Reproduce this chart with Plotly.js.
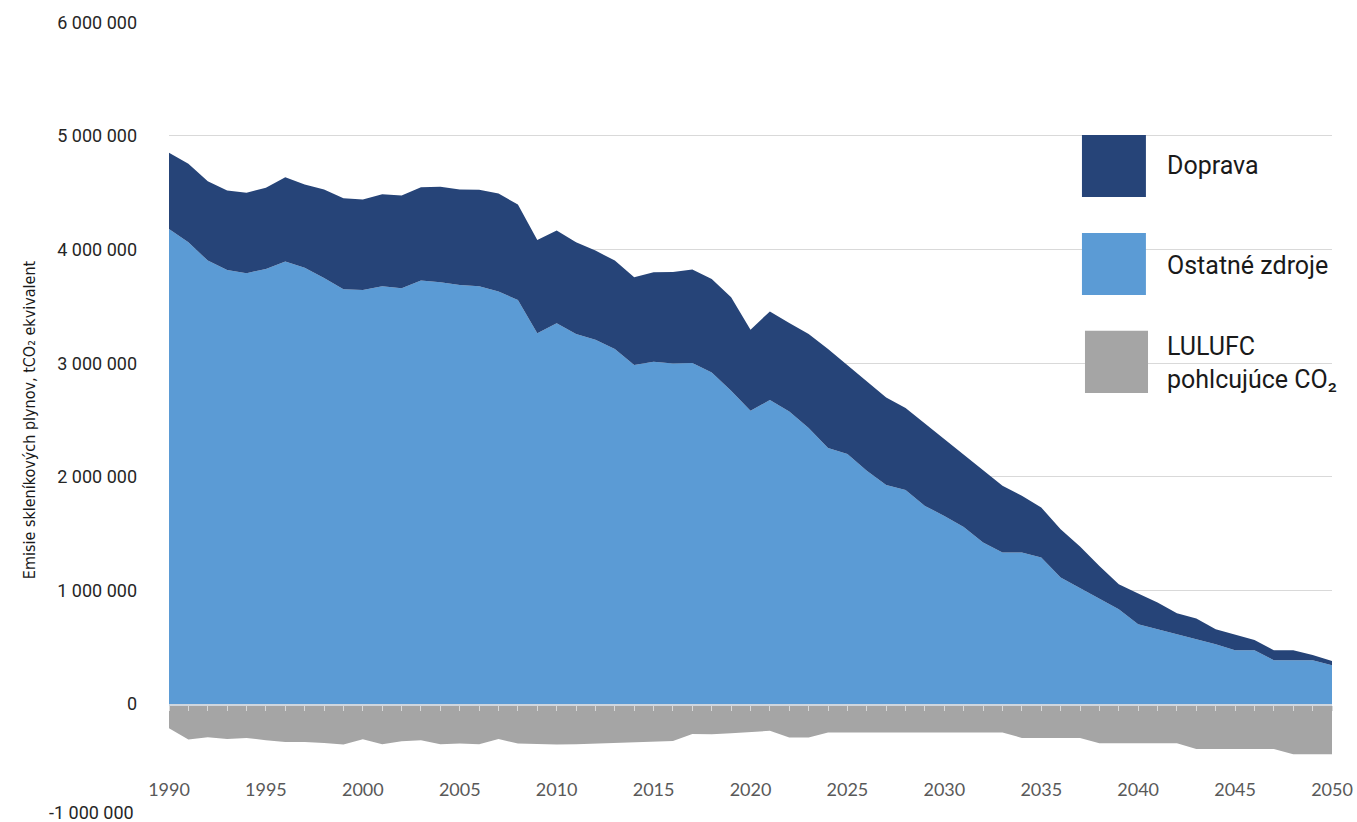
<!DOCTYPE html>
<html>
<head>
<meta charset="utf-8">
<script src="https://cdn.plot.ly/plotly-3.0.1.min.js"></script>
<style>html,body{margin:0;padding:0;background:#fff;}#chart{width:1357px;height:822px;}</style>
</head>
<body>
<div id="chart"></div>
<script>
const years = [1990,1991,1992,1993,1994,1995,1996,1997,1998,1999,2000,2001,2002,2003,2004,2005,2006,2007,2008,2009,2010,2011,2012,2013,2014,2015,2016,2017,2018,2019,2020,2021,2022,2023,2024,2025,2026,2027,2028,2029,2030,2031,2032,2033,2034,2035,2036,2037,2038,2039,2040,2041,2042,2043,2044,2045,2046,2047,2048,2049,2050];

const ostatneZdroje = [4182000,4064000,3903000,3821000,3792000,3830000,3894000,3839000,3750000,3650000,3645000,3677000,3659000,3727000,3712000,3689000,3677000,3630000,3557000,3264000,3351000,3257000,3207000,3125000,2984000,3013000,2998000,3002000,2919000,2758000,2581000,2676000,2575000,2430000,2254000,2200000,2053000,1927000,1883000,1744000,1656000,1559000,1421000,1333000,1333000,1289000,1113000,1019000,928000,834000,702000,658000,620000,576000,526000,473000,473000,385000,385000,385000,341000];

const doprava = [670000,691000,699000,699000,708000,714000,743000,734000,779000,802000,796000,810000,817000,822000,840000,840000,849000,863000,839000,821000,816000,807000,784000,778000,772000,787000,805000,822000,823000,822000,714000,780000,779000,827000,871000,784000,793000,772000,722000,724000,675000,635000,636000,588000,500000,441000,426000,367000,288000,220000,270000,235000,179000,176000,132000,141000,91000,88000,88000,47000,38000];

const lulufc = [-213000,-313000,-292000,-307000,-298000,-319000,-333000,-333000,-342000,-357000,-310000,-354000,-328000,-319000,-354000,-348000,-354000,-307000,-348000,-352000,-357000,-354000,-348000,-345000,-336000,-330000,-325000,-263000,-266000,-257000,-248000,-236000,-295000,-295000,-251000,-251000,-251000,-251000,-251000,-251000,-251000,-251000,-251000,-251000,-298000,-298000,-298000,-298000,-345000,-345000,-345000,-345000,-345000,-395000,-395000,-395000,-395000,-395000,-442000,-442000,-442000];

const seriesNames = ["Doprava", "Ostatné zdroje", "LULUFC<br>pohlcujúce CO₂"];
const seriesColors = ["#264478", "#5B9BD5", "#A5A5A5"];

const yTickVals = [-1000000,0,1000000,2000000,3000000,4000000,5000000,6000000];
const yTickText = ["-1 000 000","0","1 000 000","2 000 000","3 000 000","4 000 000","5 000 000","6 000 000"];
const xTickVals = [1990,1995,2000,2005,2010,2015,2020,2025,2030,2035,2040,2045,2050];
const xTickText = ["1990","1995","2000","2005","2010","2015","2020","2025","2030","2035","2040","2045","2050"];

const yTitle = "Emisie skleníkových plynov, tCO₂ ekvivalent";

const traces = [
  {x: years, y: ostatneZdroje, name: seriesNames[1], type: "scatter", mode: "lines",
   stackgroup: "pos", line: {width: 0, color: seriesColors[1]}, fillcolor: seriesColors[1], showlegend: false, hoverinfo: "x+y+name"},
  {x: years, y: doprava, name: seriesNames[0], type: "scatter", mode: "lines",
   stackgroup: "pos", line: {width: 0, color: seriesColors[0]}, fillcolor: seriesColors[0], showlegend: false, hoverinfo: "x+y+name"},
  {x: years, y: lulufc, name: seriesNames[2], type: "scatter", mode: "lines",
   fill: "tozeroy", line: {width: 0, color: seriesColors[2]}, fillcolor: seriesColors[2], showlegend: false, hoverinfo: "x+y+name"},
  {x: [years[0], years[years.length-1]], y: [0, 0], xaxis: "x2", yaxis: "y", mode: "lines",
   line: {width: 0}, showlegend: false, hoverinfo: "skip"}
];

const legendBoxes = [
  {x0: 0.785, x1: 0.840, y0: 0.780, y1: 0.858},
  {x0: 0.785, x1: 0.840, y0: 0.657, y1: 0.735},
  {x0: 0.7876, x1: 0.8418, y0: 0.534, y1: 0.612}
];
const legendTextY = [0.820, 0.6947, 0.5722];

const shapes = legendBoxes.map((b, i) => ({
  type: "rect", xref: "paper", yref: "paper", x0: b.x0, x1: b.x1, y0: b.y0, y1: b.y1,
  fillcolor: seriesColors[i], line: {width: 0}, layer: "above"
}));
const annotations = seriesNames.map((n, i) => ({
  xref: "paper", yref: "paper", x: 0.856, y: legendTextY[i], xanchor: "left", yanchor: "middle",
  text: n, showarrow: false, align: "left",
  font: {family: "Roboto, Arial, sans-serif", size: 25, color: "#1a1a1a"}
}));
// lowest y tick label sits at the page edge: drawn as annotation nudged up so it is not cut
annotations.push({
  xref: "paper", yref: "y", x: -0.0284, y: yTickVals[0], xanchor: "right", yanchor: "middle",
  yshift: 5, text: yTickText[0], showarrow: false,
  font: {family: "Roboto, Arial, sans-serif", size: 18, color: "#262626"}
});
const shownTickText = yTickText.map((t, i) => i === 0 ? "" : t);

const layout = {
  width: 1357, height: 822,
  margin: {l: 169, r: 25, t: 22, b: 4, pad: 0},
  paper_bgcolor: "#ffffff", plot_bgcolor: "#ffffff",
  showlegend: false,
  xaxis: {
    range: [1990, 2050], anchor: "free", position: 0.051,
    tickmode: "array", tickvals: xTickVals, ticktext: xTickText,
    ticks: "", showline: false, showgrid: false, zeroline: false,
    tickfont: {family: "Lato, 'Open Sans', sans-serif", size: 18, color: "#595959"}
  },
  xaxis2: {
    overlaying: "x", matches: "x", anchor: "free", position: 1/7,
    showticklabels: false, showgrid: false, zeroline: false,
    showline: true, linecolor: "#cfd6de", linewidth: 1.5,
    ticks: "outside", ticklen: 5, tickwidth: 1, tickcolor: "#d9d9d9",
    tickmode: "linear", tick0: 1990, dtick: 1, layer: "above traces"
  },
  yaxis: {
    range: [-1003000, 6003000],
    tickmode: "array", tickvals: yTickVals, ticktext: shownTickText,
    showgrid: true, gridcolor: "#d9d9d9", gridwidth: 1,
    zeroline: false, showline: false, ticks: "",
    ticklabelstandoff: 31,
    tickfont: {family: "Roboto, Arial, sans-serif", size: 18, color: "#262626"},
    title: {text: yTitle, standoff: 17,
      font: {family: "'Liberation Sans Narrow', 'Arial Narrow', 'DejaVu Sans Condensed', Roboto, sans-serif", size: 16, color: "#1a1a1a"}}
  },
  shapes: shapes,
  annotations: annotations
};

Plotly.newPlot("chart", traces, layout, {displayModeBar: false, staticPlot: true});
</script>
</body>
</html>
